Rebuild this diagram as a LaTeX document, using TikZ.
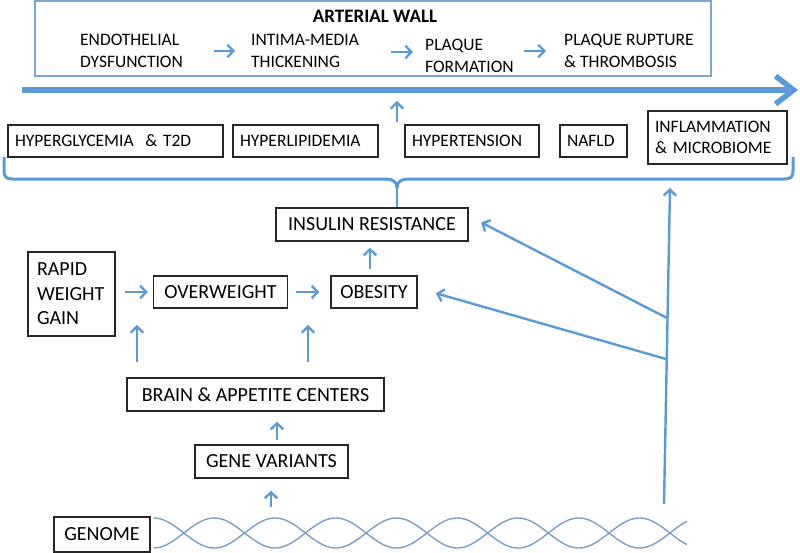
\documentclass[tikz,border=0pt]{standalone}
\usepackage{fontspec}
\setmainfont{Carlito}
\usetikzlibrary{arrows.meta}
\definecolor{bl}{HTML}{5B9BD5}
\definecolor{awc}{HTML}{7BA7D8}
\definecolor{hx}{HTML}{7E9DC5}
\definecolor{bx}{HTML}{262626}
\begin{document}
\begin{tikzpicture}[x=1pt,y=-1pt,
  txt/.style={inner sep=0pt, align=left, font=\fontsize{17.5}{22}\selectfont, anchor=west},
  rowbox/.style={draw=bx, line width=1.3pt, inner xsep=7pt, inner ysep=0pt, align=left, font=\fontsize{17.5}{21}\selectfont},
  lowbox/.style={draw=bx, line width=1.3pt, inner sep=0pt, align=center, font=\fontsize{20}{24.5}\selectfont},
  arr/.style={draw=bl, line width=2.4pt, line join=round, -{Straight Barb[length=6pt,width=12.5pt]}},
  bigarr/.style={draw=bl, line width=5.5pt, -{Straight Barb[length=18pt,width=28pt]}},
  blline/.style={draw=bl, line width=2.4pt},
]
\useasboundingbox (0,0) rectangle (800,552);
% arterial wall
\node[draw=awc, line width=1.4pt, minimum width=676pt, minimum height=75pt, inner sep=0pt] (aw) at (373,38.5) {};
\node[font=\bfseries\fontsize{19}{22}\selectfont, inner sep=0pt] (awt) at (375,16) {ARTERIAL WALL};
\node[txt] (endo) at (80,51) {ENDOTHELIAL\\DYSFUNCTION};
\node[txt] (intima) at (251,51) {INTIMA-MEDIA\\THICKENING};
\node[txt] (plq) at (425,55.5) {PLAQUE\\FORMATION};
\node[txt] (rup) at (564,51) {PLAQUE RUPTURE\\\& THROMBOSIS};
\draw[arr] ([xshift=-37pt]intima.west) -- ([xshift=-16pt]intima.west);
\draw[arr] ([xshift=-34pt,yshift=3.5pt]plq.west) -- ([xshift=-12pt,yshift=3.5pt]plq.west);
\draw[arr] ([xshift=-40pt]rup.west) -- ([xshift=-18pt]rup.west);
% big arrow
\coordinate (ba1) at (22,90);
\coordinate (ba2) at (798,90);
\draw[bigarr] (ba1) -- (ba2);
\coordinate (sa1) at (397,122);
\coordinate (sa2) at (397,101);
\draw[arr] (sa1) -- (sa2);
% row boxes
\node[rowbox, text width=201pt, minimum height=32pt] (hg) at (115.5,141) {HYPERGLYCEMIA\ \ \& T2D};
\node[rowbox, text width=131pt, minimum height=32pt] (hl) at (305.5,141) {HYPERLIPIDEMIA};
\node[rowbox, text width=120pt, minimum height=32pt] (ht) at (472,141) {HYPERTENSION};
\node[rowbox, text width=53pt, minimum height=32pt] (nf) at (593.5,141) {NAFLD};
\node[rowbox, text width=125pt, minimum height=53pt] (inf) at (717.5,137.5) {INFLAMMATION\\\& MICROBIOME};
% brace
\draw[draw=bl, line width=3pt, line join=round]
  (4,157) -- (4,170) .. controls (4,177) and (6,179) .. (13,179) -- (386,179)
  .. controls (393,179) and (397,182) .. (397,188)
  .. controls (397,182) and (401,179) .. (408,179) -- (784,179)
  .. controls (791,179) and (793,177) .. (793,170) -- (793,157);
\coordinate (tip) at (397,188);
% lower boxes
\node[lowbox, minimum width=192pt, minimum height=33pt] (ir) at (372,224.5) {INSULIN RESISTANCE};
\node[lowbox, align=left, inner xsep=9pt, text width=69pt, minimum height=84pt] (rwg) at (71.5,294) {RAPID\\WEIGHT\\GAIN};
\node[lowbox, minimum width=134pt, minimum height=32pt] (ow) at (220.5,292) {OVERWEIGHT};
\node[lowbox, minimum width=86pt, minimum height=32pt] (ob) at (374,292) {OBESITY};
\node[lowbox, minimum width=257pt, minimum height=33pt] (br) at (255.5,394.5) {BRAIN \& APPETITE CENTERS};
\node[lowbox, minimum width=153pt, minimum height=33pt] (gv) at (271.5,461.5) {GENE VARIANTS};
\node[lowbox, line width=2.2pt, minimum width=96pt, minimum height=35pt] (gen) at (102,534.5) {GENOME};
\draw[blline] (tip) -- (tip |- ir.north);
% helix
\draw[hx, line width=1.4pt] plot[domain=153.5:687, samples=240, smooth] (\x, {533-15*cos(2.963*(\x-153.5))});
\draw[hx, line width=1.4pt] plot[domain=153.5:687, samples=240, smooth] (\x, {533+15*cos(2.963*(\x-153.5))});
% connectors
\draw[arr, shorten <=6pt, shorten >=6pt] ([xshift=-4pt]ob.north) -- ([xshift=-2pt]ir.south);
\draw[arr, shorten <=9pt, shorten >=5pt] (rwg.east |- ow.west) -- (ow.west);
\draw[arr, shorten <=8pt, shorten >=11pt] (ow.east) -- (ob.west);
\coordinate (c1) at (137,325);
\coordinate (c2) at (308,325);
\draw[arr, shorten <=15pt] (br.north -| c1) -- (c1);
\draw[arr, shorten <=15pt] (br.north -| c2) -- (c2);
\coordinate (g1) at ([xshift=5.5pt]gv.north);
\draw[arr, shorten <=4pt, shorten >=10pt] (g1) -- (g1 |- br.south);
\coordinate (h1) at (271,507);
\draw[arr, shorten >=12pt] (h1) -- (h1 |- gv.south);
\coordinate (v0) at (664,504);
\coordinate (v1) at (670,188);
\draw[arr] (v0) -- (v1);
\coordinate (j1) at (667,318);
\coordinate (j2) at (666,359);
\draw[arr, shorten >=14pt] (j1) -- ([yshift=8.5pt]ir.east);
\draw[arr, shorten >=19pt] (j2) -- ([yshift=4pt]ob.east);
\end{tikzpicture}
\end{document}
